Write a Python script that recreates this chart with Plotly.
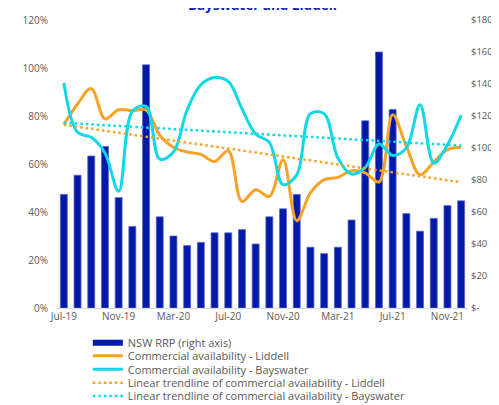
import numpy as np
import plotly.graph_objects as go

# monthly categories, Jul-19 .. Dec-21
months = ['Jul-19', 'Aug-19', 'Sep-19', 'Oct-19', 'Nov-19', 'Dec-19',
          'Jan-20', 'Feb-20', 'Mar-20', 'Apr-20', 'May-20', 'Jun-20',
          'Jul-20', 'Aug-20', 'Sep-20', 'Oct-20', 'Nov-20', 'Dec-20',
          'Jan-21', 'Feb-21', 'Mar-21', 'Apr-21', 'May-21', 'Jun-21',
          'Jul-21', 'Aug-21', 'Sep-21', 'Oct-21', 'Nov-21', 'Dec-21']

# NSW regional reference price, $/MWh (right axis)
nsw_rrp = [71, 83, 95, 101, 69, 51, 152, 57, 45, 39, 41, 47, 47, 49, 40,
           57, 62, 71, 38, 34, 38, 55, 117, 160, 124, 59, 48, 56, 64, 67]

# commercial availability, % (left axis)
liddell = [76.4, 85, 91.4, 78.8, 82.6, 82.2, 82.5, 72, 67, 65, 64, 61, 65.5,
           44.4, 49.3, 46.5, 61.8, 36.4, 48, 53.5, 54.4, 57.2, 56.3, 52.5,
           80.5, 67.4, 55.5, 60.8, 66, 67]
bayswater = [93.8, 73.2, 71.1, 64.6, 48.6, 82, 84, 62, 65, 82.6, 93, 96, 94.4,
             83, 72.5, 69, 51.4, 55.5, 81, 81, 62.5, 55.8, 58.6, 68.3, 63.6,
             66.7, 84.7, 60.4, 68, 80.3]

month_ticks = ['Jul-19', 'Nov-19', 'Mar-20', 'Jul-20', 'Nov-20', 'Mar-21',
               'Jul-21', 'Nov-21']
pct_ticks = [0, 20, 40, 60, 80, 100, 120]
pct_labels = ['0%', '20%', '40%', '60%', '80%', '100%', '120%']
price_ticks = [0, 20, 40, 60, 80, 100, 120, 140, 160, 180]
price_labels = ['$-', '$20', '$40', '$60', '$80', '$100', '$120', '$140',
                '$160', '$180']

BLUE = '#0019A9'
ORANGE = '#F7A325'
CYAN = '#10D8E6'
GREY = '#595959'
FONT = 'Open Sans'


def trendline(values):
    """Least squares linear trend, like Excel's linear trendline."""
    idx = np.arange(len(values))
    slope, icpt = np.polyfit(idx, values, 1)
    return slope * idx + icpt


def legend_box(py):
    # one single-entry legend per row so rows can sit close together
    return dict(xref='container', yref='container', x=0.16, y=1 - py / 405,
                xanchor='left', yanchor='middle', bgcolor='rgba(0,0,0,0)',
                font=dict(family=FONT, size=11, color=GREY),
                itemwidth=30)


fig = go.Figure()

fig.add_trace(go.Bar(x=months, y=nsw_rrp, yaxis='y', showlegend=False,
                     marker=dict(color=BLUE, line=dict(color='#5A68C4', width=0.8))))
# legend proxy so the bar key is drawn as a wide strip
fig.add_trace(go.Scatter(x=[None], y=[None], mode='lines', name='NSW RRP (right axis)',
                         line=dict(color=BLUE, width=6), legend='legend'))

fig.add_trace(go.Scatter(x=months, y=liddell, yaxis='y2', mode='lines',
                         name='Commercial availability - Liddell',
                         line=dict(color=ORANGE, width=3, shape='spline', smoothing=1),
                         legend='legend2'))
fig.add_trace(go.Scatter(x=months, y=bayswater, yaxis='y2', mode='lines',
                         name='Commercial availability - Bayswater',
                         line=dict(color=CYAN, width=3, shape='spline', smoothing=1),
                         legend='legend3'))
fig.add_trace(go.Scatter(x=months, y=trendline(liddell), yaxis='y2', mode='lines',
                         name='Linear trendline of commercial availability - Liddell',
                         line=dict(color=ORANGE, width=2.5, dash='2.5px,3px'),
                         legend='legend4'))
fig.add_trace(go.Scatter(x=months, y=trendline(bayswater), yaxis='y2', mode='lines',
                         name='Linear trendline of commercial availability - Bayswater',
                         line=dict(color=CYAN, width=2.5, dash='2.5px,3px'),
                         legend='legend5'))

fig.update_layout(
    width=499, height=405,
    margin=dict(l=49, r=39, t=12, b=105, autoexpand=False),
    paper_bgcolor='white', plot_bgcolor='white',
    font=dict(family=FONT, size=10, color=GREY),
    bargap=0.49,
    xaxis=dict(type='category', tickmode='array', tickvals=month_ticks,
               showgrid=False, showline=True, linecolor='#D9D9D9', linewidth=1,
               ticks='', ticklabelstandoff=-1, range=[-0.5, 29.5]),
    yaxis=dict(side='right', range=[0, 180], tickvals=price_ticks, ticktext=price_labels,
               showgrid=False, zeroline=False, showline=False, ticks='',
               ticklabelstandoff=2, tickfont=dict(size=9.5)),
    yaxis2=dict(overlaying='y', side='left', range=[0, 120], tickvals=pct_ticks,
                ticktext=pct_labels, showgrid=False, zeroline=False, showline=False,
                ticks='', ticklabelstandoff=8),
    legend=legend_box(334.7),
    legend2=legend_box(347.7),
    legend3=legend_box(361.3),
    legend4=legend_box(374.7),
    legend5=legend_box(388),
    annotations=[dict(text='<b>Bayswater and Liddell</b>', x=0.5, xref='paper',
                      xanchor='center', y=(300 + 3) / 288, yref='paper',
                      yanchor='middle', showarrow=False,
                      font=dict(family=FONT, size=13.5, color='#0A22B4'))],
)

fig.write_html("out.html")
